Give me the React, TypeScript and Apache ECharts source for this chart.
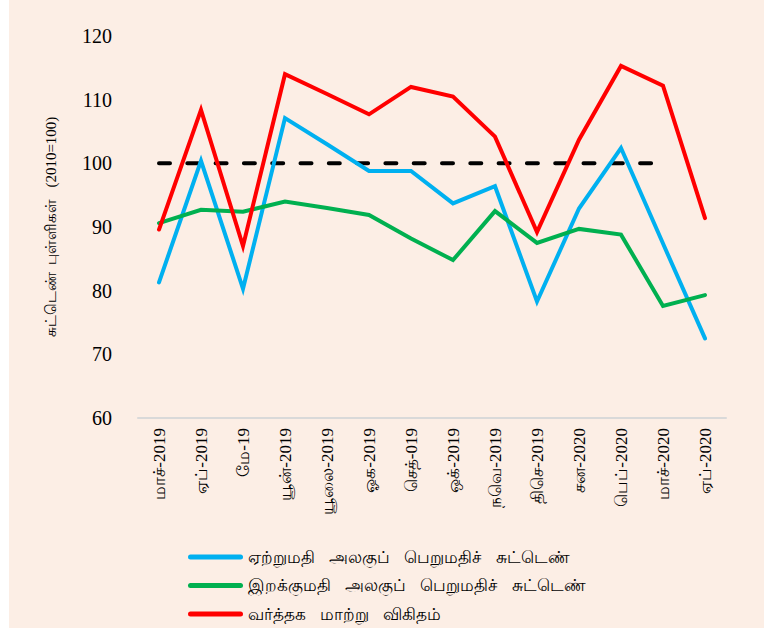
import React, { useEffect, useRef } from "react";
import * as echarts from "echarts";

const categories = [
  "மாச்-2019", "ஏப்-2019", "மே-19", "யூன்-2019", "யூலை-2019", "ஓக-2019", "செத்-019",
  "ஒக்-2019", "நவெ-2019", "திசெ-2019", "சன-2020", "பெப்-2020", "மாச்-2020", "ஏப்-2020",
];
const exportIndex = [81.3, 100.4, 80.3, 107.1, 103.0, 98.8, 98.8, 93.7, 96.4, 78.3, 92.9, 102.4, 87.4, 72.5];
const importIndex = [90.6, 92.7, 92.4, 94.0, 93.0, 91.9, 88.2, 84.8, 92.5, 87.5, 89.7, 88.8, 77.6, 79.3];
const termsOfTrade = [89.6, 108.4, 87.0, 114.0, 110.9, 107.7, 112.0, 110.5, 104.2, 89.2, 103.7, 115.3, 112.2, 91.4];
const baseLine = [100, 100, 100, 100, 100, 100, 100, 100, 100, 100, 100, 100, 100, null];

const seriesNames = [
  "ஏற்றுமதி   அலகுப்   பெறுமதிச்   சுட்டெண்",
  "இறக்குமதி   அலகுப்   பெறுமதிச்   சுட்டெண்",
  "வர்த்தக   மாற்று   விகிதம்",
];
const yTitle = "சுட்டெண்  புள்ளிகள்   (2010=100)";

export default function App() {
  const ref = useRef<HTMLDivElement>(null);
  useEffect(() => {
    if (!ref.current) return;
    const chart = echarts.init(ref.current, undefined, { renderer: "svg" });
    const lineSeries = (name: string, data: (number | null)[], color: string) => ({
      name,
      type: "line",
      data,
      symbol: "none",
      lineStyle: { color, width: 4, cap: "round", join: "miter" },
      itemStyle: { color },
    });
    chart.setOption({
      animation: false,
      backgroundColor: "#FCEEE5",
      grid: { left: 129, right: 38, top: 36, bottom: 210, containLabel: false },
      legend: {
        data: seriesNames,
        orient: "vertical",
        left: 179,
        top: 547,
        padding: 0,
        itemWidth: 55,
        itemHeight: 5,
        itemGap: 8.5,
        icon: "path://M2.5,0 H52.5 A2.5,2.5 0 0 1 52.5,5 H2.5 A2.5,2.5 0 0 1 2.5,0 Z",
        textStyle: { fontSize: 17, lineHeight: 20, color: "#000", fontFamily: "sans-serif" },
      },
      xAxis: {
        type: "category",
        data: categories,
        boundaryGap: true,
        axisLine: { show: true, lineStyle: { color: "#D9D9D9", width: 2 } },
        axisTick: { show: false },
        axisLabel: {
          rotate: 90,
          interval: 0,
          margin: 10,
          fontSize: 17,
          color: "#000",
          fontFamily: "Liberation Serif, serif",
        },
      },
      yAxis: {
        type: "value",
        min: 60,
        max: 120,
        interval: 10,
        axisLine: { show: false },
        axisTick: { show: false },
        splitLine: { show: false },
        axisLabel: { fontSize: 20, color: "#000", margin: 26, fontFamily: "Liberation Serif, serif" },
        name: yTitle,
        nameLocation: "middle",
        nameRotate: 90,
        nameGap: 80,
        nameTextStyle: { fontSize: 15, color: "#000", fontFamily: "Liberation Serif, serif" },
      },
      series: [
        {
          name: "base",
          type: "line",
          data: baseLine,
          symbol: "none",
          z: 1,
          lineStyle: { color: "#000", width: 4, type: [11, 17.3], cap: "round" },
          itemStyle: { color: "#000" },
        },
        lineSeries(seriesNames[0], exportIndex, "#00B0F0"),
        lineSeries(seriesNames[1], importIndex, "#00B050"),
        lineSeries(seriesNames[2], termsOfTrade, "#FF0000"),
      ],
    });
    return () => chart.dispose();
  }, []);
  return (
    <div
      ref={ref}
      style={{ position: "fixed", left: 9, top: 0, width: 755, height: 628 }}
    />
  );
}
